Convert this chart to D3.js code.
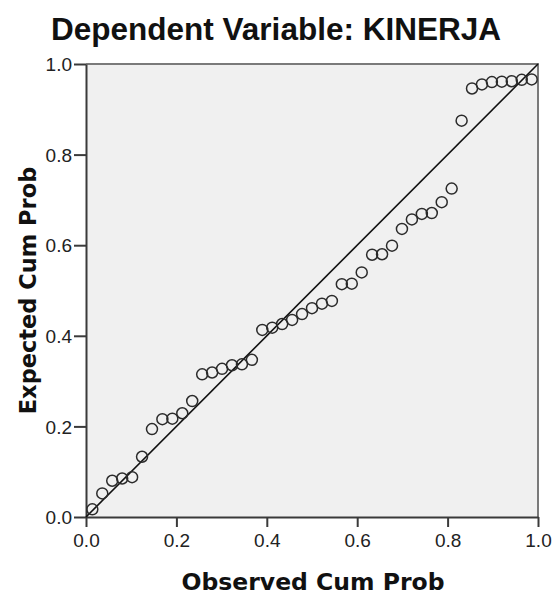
<!DOCTYPE html>
<html>
<head>
<meta charset="utf-8">
<script src="https://cdn.jsdelivr.net/npm/d3@7"></script>
<style>
  html, body { margin: 0; padding: 0; background: #fff; }
  svg { display: block; }
</style>
</head>
<body>
<div id="chart"></div>
<script>
// ---- data ----
const titleText = "Dependent Variable: KINERJA";
const xTitle = "Observed Cum Prob";
const yTitle = "Expected Cum Prob";
const tickValues = [0.0, 0.2, 0.4, 0.6, 0.8, 1.0];

const observedCumProb = [
  0.014, 0.036, 0.058, 0.080, 0.102, 0.124, 0.146, 0.169, 0.191, 0.213,
  0.235, 0.257, 0.279, 0.301, 0.323, 0.345, 0.367, 0.390, 0.412, 0.434,
  0.456, 0.478, 0.500, 0.522, 0.544, 0.566, 0.588, 0.610, 0.633, 0.655,
  0.677, 0.699, 0.721, 0.743, 0.765, 0.787, 0.809, 0.831, 0.854, 0.876,
  0.898, 0.920, 0.942, 0.964, 0.986
];
const expectedCumProb = [
  0.017, 0.052, 0.080, 0.085, 0.088, 0.133, 0.194, 0.216, 0.217, 0.229,
  0.256, 0.315, 0.319, 0.327, 0.335, 0.337, 0.347, 0.413, 0.418, 0.426,
  0.435, 0.448, 0.461, 0.471, 0.477, 0.514, 0.515, 0.540, 0.579, 0.580,
  0.599, 0.636, 0.657, 0.669, 0.671, 0.695, 0.725, 0.875, 0.946, 0.955,
  0.960, 0.961, 0.962, 0.965, 0.966
];
const refLine = [[0, 0], [1, 1]];

// ---- layout ----
const W = 555, H = 598;
const plot = { left: 86, right: 538, top: 64, bottom: 517 };

const svg = d3.select("#chart").append("svg")
  .attr("width", W).attr("height", H);

svg.append("rect").attr("width", W).attr("height", H).attr("fill", "#fff");

const x = d3.scaleLinear().domain([0, 1]).range([plot.left, plot.right]);
const y = d3.scaleLinear().domain([0, 1]).range([plot.bottom, plot.top]);

// plot background
svg.append("rect")
  .attr("x", plot.left).attr("y", plot.top)
  .attr("width", plot.right - plot.left).attr("height", plot.bottom - plot.top)
  .attr("fill", "#f0f0f0");

// top & right frame (gray)
svg.append("path")
  .attr("d", `M${plot.left},${plot.top}H${plot.right}V${plot.bottom}`)
  .attr("fill", "none").attr("stroke", "#7a7a7a").attr("stroke-width", 2);

// axes
const xAxis = d3.axisBottom(x).tickValues(tickValues).tickFormat(d3.format(".1f"))
  .tickSize(10).tickSizeOuter(0).tickPadding(7);
const yAxis = d3.axisLeft(y).tickValues(tickValues).tickFormat(d3.format(".1f"))
  .tickSize(12).tickSizeOuter(0).tickPadding(2);

const gx = svg.append("g").attr("transform", `translate(0,${plot.bottom})`).call(xAxis);
const gy = svg.append("g").attr("transform", `translate(${plot.left},0)`).call(yAxis);

[gx, gy].forEach(g => {
  g.select(".domain").attr("stroke", "#3a3a3a").attr("stroke-width", 2);
  g.selectAll(".tick line").attr("stroke", "#3a3a3a").attr("stroke-width", 2);
  g.selectAll(".tick text")
    .attr("fill", "#222")
    .style("font-family", "'Liberation Sans', Arial, sans-serif")
    .style("font-size", "19px");
});
gy.selectAll(".tick text").attr("dy", "0.35em");

// reference line
const line = d3.line().x(d => x(d[0])).y(d => y(d[1]));
svg.append("path")
  .datum(refLine)
  .attr("d", line)
  .attr("fill", "none")
  .attr("stroke", "#111")
  .attr("stroke-width", 1.6);

// points
svg.append("g").selectAll("circle")
  .data(observedCumProb.map((v, i) => ({ o: v, e: expectedCumProb[i] })))
  .join("circle")
  .attr("cx", d => x(d.o))
  .attr("cy", d => y(d.e))
  .attr("r", 5.5)
  .attr("fill", "none")
  .attr("stroke", "#2b2b2b")
  .attr("stroke-width", 1.5);

// titles
svg.append("text")
  .attr("x", 276).attr("y", 40)
  .attr("text-anchor", "middle")
  .style("font-family", "'Liberation Sans', Arial, sans-serif")
  .style("font-weight", "bold").style("font-size", "31.5px")
  .attr("fill", "#111")
  .text(titleText);

svg.append("text")
  .attr("x", (plot.left + plot.right) / 2 + 1).attr("y", 590)
  .attr("text-anchor", "middle")
  .style("font-family", "'DejaVu Sans', sans-serif")
  .style("font-weight", "bold").style("font-size", "23.5px")
  .attr("fill", "#111")
  .text(xTitle);

svg.append("text")
  .attr("transform", `translate(36,${(plot.top + plot.bottom) / 2}) rotate(-90)`)
  .attr("text-anchor", "middle")
  .style("font-family", "'DejaVu Sans', sans-serif")
  .style("font-weight", "bold").style("font-size", "22.5px")
  .attr("fill", "#111")
  .text(yTitle);
</script>
</body>
</html>
